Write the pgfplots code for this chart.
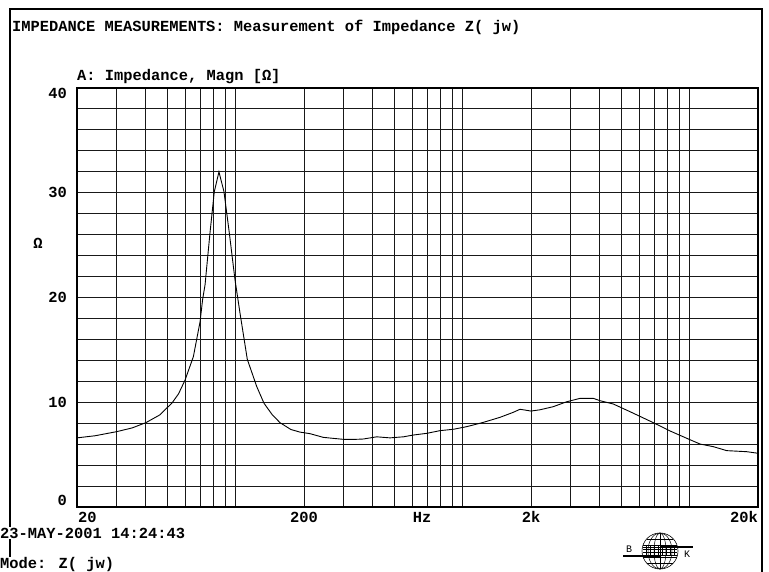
\documentclass[border=0pt]{standalone}
\usepackage{pgfplots}
\pgfplotsset{compat=1.18}
\usepackage{fontspec}
\setmainfont{Liberation Mono}
\begin{document}
\begin{tikzpicture}
\fontsize{15.4}{18}\selectfont\bfseries
\useasboundingbox (0pt,0pt) rectangle (769pt,-572pt);
\fill[white] (0pt,0pt) rectangle (769pt,-572pt);
% outer frame
\draw[line width=1.4pt] (10pt,-572pt) -- (10pt,-9pt) -- (762pt,-9pt) -- (762pt,-572pt);
\begin{axis}[
  at={(77pt,-507pt)}, anchor=south west,
  width=681pt, height=419pt, scale only axis,
  xmode=log, xmin=20, xmax=20000, ymin=0, ymax=40,
  xtick={20,30,40,50,60,70,80,90,100,200,300,400,500,600,700,800,900,1000,2000,3000,4000,5000,6000,7000,8000,9000,10000,20000},
  ytick={0,2,...,40},
  xticklabels={}, yticklabels={},
  major tick length=0pt,
  grid=major,
  major grid style={black!90, line width=1pt},
  axis line style={black, line width=1.2pt},
  clip=true,
]
\addplot[black, line width=0.9pt] coordinates {
(20,6.6) (24,6.8) (30,7.2) (35,7.55) (40.2,8.05) (46.4,8.8) (50,9.5) (52.3,9.9)
(56,10.8) (59.8,12.1) (65.1,14.35) (69.7,17.7) (71.5,19.8) (73.3,21.2) (77.1,26.2)
(80.5,30.1) (84.4,32.0) (88.8,30.1) (93.7,26.2) (99.3,21.7) (104.5,18.5) (112.5,14.1)
(123.8,11.5) (133.3,9.9) (145,8.8) (156.8,8.05) (175,7.4) (192,7.15) (212.6,7.0)
(243,6.65) (270,6.55) (298,6.46) (330,6.45) (365,6.49) (418,6.7) (478,6.6) (548,6.7)
(606,6.87) (694,7.03) (795,7.29) (910,7.42) (1042,7.67) (1233,8.08) (1460,8.56)
(1671,9.04) (1789,9.33) (2000,9.16) (2190,9.28) (2508,9.58) (2874,10.05) (3289,10.37)
(3764,10.37) (4028,10.15) (4610,9.83) (5460,9.1) (6916,8.05) (8193,7.26) (9704,6.56)
(11108,6.01) (12713,5.76) (14561,5.38) (17838,5.28) (20000,5.13)
};
\end{axis}
\begin{scope}[x=1pt,y=-1pt]
\node[anchor=west, inner sep=0pt] at (12,27) {IMPEDANCE MEASUREMENTS: Measurement of  Impedance Z( jw)};
\node[anchor=west, inner sep=0pt] at (77,77) {A: Impedance, Magn [Ω]};
\node[anchor=east, inner sep=0pt] at (67,93) {40};
\node[anchor=east, inner sep=0pt] at (67,192) {30};
\node[anchor=east, inner sep=0pt] at (67,297) {20};
\node[anchor=east, inner sep=0pt] at (67,402) {10};
\node[anchor=east, inner sep=0pt] at (67,500) {0};
\node[inner sep=0pt] at (38,243) {Ω};
\node[anchor=west, inner sep=0pt] at (78,517) {20};
\node[inner sep=0pt] at (304,517) {200};
\node[inner sep=0pt] at (422,517) {Hz};
\node[inner sep=0pt] at (531,517) {2k};
\node[anchor=east, inner sep=0pt] at (758,517) {20k};
\node[anchor=west, fill=white, inner sep=1pt] at (-1,533) {23-MAY-2001 14:24:43};
\node[anchor=west, fill=white, inner sep=1pt] at (-1,565) {Mode: Z( jw)};
% logo
\begin{scope}[shift={(660,551)}]
\draw[line width=0.6pt] (0,0) circle (18);
\draw[line width=0.5pt] (0,0) ellipse (6 and 18);
\draw[line width=0.5pt] (0,0) ellipse (12 and 18);
\draw[line width=0.5pt] (0,-18) -- (0,18);
\foreach \yy in {-12,-6,6,12} \draw[line width=0.5pt] ({-sqrt(324-\yy*\yy)},\yy) -- ({sqrt(324-\yy*\yy)},\yy);
\foreach \yy in {-4,-1.5,1.5,4} \draw[line width=1pt] (-17,\yy) -- (17,\yy);
\foreach \xx in {-14,-10,-6,-2,2,6,10,14} \draw[line width=1pt] (\xx,-5) -- (\xx,5);
\draw[line width=1.2pt] (-37,5) -- (0,5);
\draw[line width=1.2pt] (0,-4) -- (33,-4);
\node[font=\fontsize{10}{11}\selectfont\mdseries, inner sep=0pt] at (-31,-2) {B};
\node[font=\fontsize{10}{11}\selectfont\mdseries, inner sep=0pt] at (27,3) {K};
\end{scope}
\end{scope}
\end{tikzpicture}
\end{document}
